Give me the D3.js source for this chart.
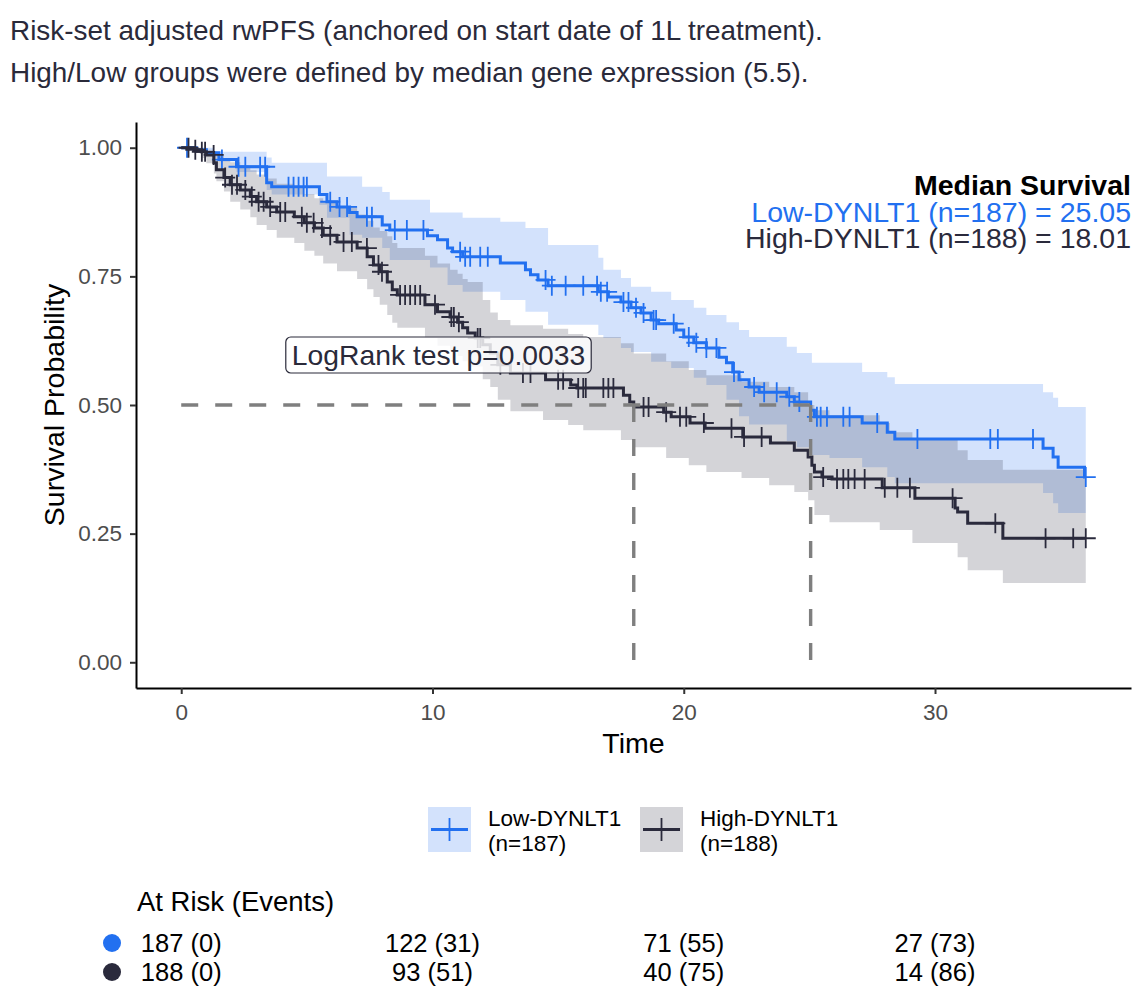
<!DOCTYPE html>
<html lang="en">
<head>
<meta charset="UTF-8">
<title>Risk-set adjusted rwPFS</title>
<script src="https://d3js.org/d3.v7.min.js"></script>
<style>
  body { margin: 0; background: #fff; }
  svg { display: block; font-family: "Liberation Sans", Arial, Helvetica, sans-serif; }
  .axis path { stroke: #000; stroke-width: 2px; }
  .axis line { stroke: #333; stroke-width: 2px; }
  .axis text { fill: #4d4d4d; font-size: 22.5px; font-family: "Liberation Sans", Arial, sans-serif; }
</style>
</head>
<body>
<svg id="chart" width="1144" height="1002"></svg>
<script>
// ---- data ----
const groups = ["Low-DYNLT1", "High-DYNLT1"];
const groupN = [187, 188];
const medians = [25.05, 18.01];
const colors = ["#2270f0", "#2a2a3c"];

// Kaplan-Meier steps (time in months, survival)
const lowTime = [0, 0.6, 1.0, 1.5, 2.2, 3.4, 3.6, 5.5, 5.8, 6.2, 6.7, 7.0, 8.0, 8.3, 9.8, 10.2, 10.6, 10.8, 11.2, 12.7, 13.7, 13.9, 14.2, 14.6, 16.6, 17.0, 17.5, 17.9, 18.3, 18.7, 19.0, 19.7, 20.0, 20.4, 20.9, 21.4, 21.7, 21.95, 22.2, 22.6, 23.0, 24.1, 24.4, 25.05, 25.2, 27.1, 28.1, 28.4, 34.3, 34.7, 34.9, 35.95];
const lowSurv = [1.000, 0.996, 0.990, 0.977, 0.963, 0.932, 0.924, 0.909, 0.895, 0.885, 0.874, 0.866, 0.850, 0.840, 0.829, 0.821, 0.805, 0.798, 0.788, 0.776, 0.763, 0.753, 0.743, 0.732, 0.720, 0.710, 0.700, 0.689, 0.679, 0.665, 0.658, 0.646, 0.632, 0.621, 0.611, 0.593, 0.582, 0.564, 0.549, 0.535, 0.525, 0.516, 0.506, 0.490, 0.477, 0.465, 0.447, 0.434, 0.416, 0.399, 0.379, 0.360];
const highTime = [0, 0.5, 0.8, 1.0, 1.3, 1.4, 1.7, 1.95, 2.35, 2.75, 3.0, 3.4, 3.8, 4.5, 4.9, 5.3, 5.65, 6.2, 7.0, 7.4, 7.65, 7.9, 8.2, 8.4, 8.6, 9.7, 10.2, 10.7, 11.0, 11.2, 11.4, 11.7, 12.0, 12.3, 12.6, 13.1, 14.5, 15.5, 15.75, 17.6, 17.85, 18.01, 19.2, 19.5, 20.25, 20.85, 22.35, 23.45, 24.4, 24.95, 25.1, 25.2, 25.5, 25.9, 27.9, 29.2, 30.8, 30.9, 31.3, 32.7];
const highSurv = [1.000, 0.996, 0.992, 0.986, 0.971, 0.957, 0.942, 0.928, 0.918, 0.905, 0.895, 0.885, 0.875, 0.866, 0.854, 0.844, 0.830, 0.817, 0.805, 0.788, 0.772, 0.759, 0.739, 0.724, 0.714, 0.695, 0.681, 0.671, 0.661, 0.650, 0.640, 0.630, 0.617, 0.601, 0.578, 0.562, 0.549, 0.539, 0.533, 0.519, 0.506, 0.496, 0.486, 0.477, 0.465, 0.455, 0.438, 0.426, 0.412, 0.399, 0.383, 0.370, 0.360, 0.356, 0.339, 0.319, 0.300, 0.292, 0.270, 0.241];
const endTime = 36.0;

// censoring times
const lowCensor = [0.23, 1.62, 2.28, 2.55, 3.14, 3.34, 4.27, 4.47, 4.67, 4.87, 5.0, 5.93, 6.3, 6.6, 7.39, 7.59, 8.5, 8.98, 9.64, 11.1, 11.3, 11.5, 11.9, 12.2, 14.5, 14.75, 15.3, 16.0, 16.55, 16.7, 16.95, 17.6, 17.8, 18.1, 18.4, 18.8, 18.9, 19.6, 20.2, 20.5, 20.9, 21.3, 22.0, 22.8, 23.2, 23.7, 24.2, 24.6, 25.3, 25.45, 25.7, 26.35, 26.6, 27.7, 29.3, 32.2, 32.5, 33.9, 36.0];
const highCensor = [0.29, 0.56, 0.82, 0.95, 1.29, 1.75, 2.02, 2.22, 2.55, 2.81, 3.08, 3.28, 3.54, 3.94, 4.14, 4.8, 5.0, 5.27, 5.6, 5.93, 6.46, 6.79, 7.39, 7.85, 7.99, 8.71, 8.91, 9.11, 9.31, 9.51, 10.1, 10.75, 10.85, 11.05, 11.8, 11.9, 12.7, 13.6, 13.9, 15.0, 15.2, 15.8, 16.0, 16.1, 16.8, 17.0, 17.2, 18.4, 18.6, 19.3, 19.85, 20.1, 20.8, 21.9, 22.4, 23.1, 25.55, 26.1, 26.35, 26.55, 26.8, 27.2, 28.0, 28.5, 29.0, 30.7, 32.4, 34.4, 35.5, 36.0];

// confidence bands (step functions)
const lowBandTime = [0, 0.6, 1.3, 1.5, 2.2, 3.4, 3.6, 5.5, 5.8, 6.7, 7.2, 8.0, 8.3, 9.9, 10.6, 11.2, 12.7, 13.7, 14.6, 16.6, 16.8, 17.5, 17.9, 18.7, 19.5, 20.4, 20.9, 21.7, 22.2, 22.6, 24.1, 24.5, 25.1, 25.8, 27.1, 28.1, 28.4, 34.3, 34.7, 34.9];
const lowLower = [1.000, 0.992, 0.981, 0.973, 0.953, 0.918, 0.909, 0.889, 0.864, 0.831, 0.825, 0.805, 0.782, 0.767, 0.733, 0.720, 0.704, 0.681, 0.656, 0.636, 0.630, 0.611, 0.603, 0.584, 0.572, 0.553, 0.539, 0.510, 0.478, 0.462, 0.430, 0.418, 0.403, 0.397, 0.379, 0.360, 0.348, 0.329, 0.309, 0.290];
const lowUpper = [1.000, 1.000, 0.992, 0.992, 0.992, 0.981, 0.971, 0.971, 0.944, 0.944, 0.924, 0.914, 0.899, 0.874, 0.874, 0.864, 0.856, 0.844, 0.811, 0.786, 0.763, 0.747, 0.730, 0.720, 0.704, 0.689, 0.675, 0.661, 0.646, 0.632, 0.613, 0.601, 0.582, 0.582, 0.564, 0.554, 0.541, 0.525, 0.514, 0.496];
const highBandTime = [0, 0.5, 0.8, 1.0, 1.3, 1.4, 1.7, 1.95, 2.35, 2.75, 3.0, 3.4, 3.8, 4.5, 4.9, 5.3, 5.65, 6.2, 7.0, 7.4, 7.65, 7.9, 8.2, 8.4, 8.6, 9.7, 10.2, 10.7, 11.0, 11.2, 11.4, 12.0, 12.3, 12.6, 13.1, 14.4, 15.4, 16.0, 17.5, 18.01, 19.3, 20.2, 20.9, 22.3, 23.4, 24.4, 24.95, 25.2, 25.8, 27.8, 28.2, 29.1, 30.9, 31.3, 32.7];
const highLower = [1.000, 0.990, 0.980, 0.970, 0.950, 0.935, 0.915, 0.895, 0.880, 0.865, 0.850, 0.840, 0.825, 0.815, 0.800, 0.790, 0.775, 0.760, 0.745, 0.725, 0.710, 0.695, 0.675, 0.660, 0.650, 0.630, 0.615, 0.605, 0.595, 0.585, 0.575, 0.550, 0.535, 0.510, 0.488, 0.471, 0.461, 0.451, 0.432, 0.418, 0.397, 0.383, 0.370, 0.358, 0.344, 0.331, 0.315, 0.286, 0.272, 0.257, 0.257, 0.232, 0.204, 0.179, 0.154];
const highUpper = [1.000, 1.000, 1.000, 0.996, 0.992, 0.988, 0.980, 0.972, 0.966, 0.956, 0.948, 0.940, 0.930, 0.922, 0.910, 0.902, 0.895, 0.885, 0.870, 0.858, 0.845, 0.838, 0.828, 0.815, 0.805, 0.790, 0.775, 0.763, 0.755, 0.745, 0.739, 0.704, 0.680, 0.665, 0.655, 0.648, 0.638, 0.632, 0.620, 0.600, 0.585, 0.568, 0.558, 0.545, 0.535, 0.525, 0.500, 0.490, 0.480, 0.465, 0.447, 0.432, 0.412, 0.393, 0.374];

// number at risk table
const riskTimes = [0, 10, 20, 30];
const lowAtRisk = [187, 122, 71, 27];
const lowEvents = [0, 31, 55, 73];
const highAtRisk = [188, 93, 40, 14];
const highEvents = [0, 51, 75, 86];

const xTicks = [0, 10, 20, 30];
const yTicks = [0, 0.25, 0.5, 0.75, 1];
const titleLines = [
  "Risk-set adjusted rwPFS (anchored on start date of 1L treatment).",
  "High/Low groups were defined by median gene expression (5.5)."
];
const pValueLabel = "LogRank test p=0.0033";

// ---- drawing ----
const svg = d3.select("#chart");
svg.append("rect").attr("width", 1144).attr("height", 1002).attr("fill", "#fff");

const x = d3.scaleLinear().domain([-1.8, 37.8]).range([136, 1131]);
const y = d3.scaleLinear().domain([-0.05, 1.05]).range([688, 122]);

svg.selectAll(".title")
  .data(titleLines)
  .enter().append("text")
  .attr("x", 10)
  .attr("y", (d, i) => 40 + i * 42)
  .attr("font-size", 27.9)
  .attr("fill", "#2a2a3a")
  .text(d => d);

function stepValue(times, vals, t) {
  const i = d3.bisectRight(times, t) - 1;
  return vals[Math.max(0, i)];
}

const plot = svg.append("g");

const bandArea = d3.area()
  .curve(d3.curveStepAfter)
  .x(d => x(d[0]))
  .y0(d => y(d[1]))
  .y1(d => y(d[2]));

const bands = [
  [lowBandTime, lowLower, lowUpper],
  [highBandTime, highLower, highUpper]
];
bands.forEach((b, gi) => {
  const rows = b[0].map((t, i) => [t, b[1][i], b[2][i]]);
  rows.push([endTime, b[1][b[1].length - 1], b[2][b[2].length - 1]]);
  plot.append("path")
    .attr("d", bandArea(rows))
    .attr("fill", colors[gi])
    .attr("fill-opacity", 0.2);
});

const stepLine = d3.line()
  .curve(d3.curveStepAfter)
  .x(d => x(d[0]))
  .y(d => y(d[1]));

const curves = [
  [lowTime, lowSurv, lowCensor],
  [highTime, highSurv, highCensor]
];
curves.forEach((c, gi) => {
  const pts = c[0].map((t, i) => [t, c[1][i]]);
  pts.push([endTime, c[1][c[1].length - 1]]);
  plot.append("path")
    .attr("d", stepLine(pts))
    .attr("fill", "none")
    .attr("stroke", colors[gi])
    .attr("stroke-width", 3);

  plot.append("g").selectAll("path")
    .data(c[2])
    .enter().append("path")
    .attr("d", t => {
      const cx = x(t), cy = y(stepValue(c[0], c[1], t));
      return `M${cx - 10},${cy}h20M${cx},${cy - 10}v20`;
    })
    .attr("stroke", colors[gi])
    .attr("stroke-width", 1.8)
    .attr("fill", "none");
});

// median lines
const dash = { stroke: "#7f7f7f", width: 3.4, array: "17,17" };
plot.append("line")
  .attr("x1", x(0)).attr("x2", x(d3.max(medians)))
  .attr("y1", y(0.5)).attr("y2", y(0.5))
  .attr("stroke", dash.stroke).attr("stroke-width", dash.width)
  .attr("stroke-dasharray", dash.array);
medians.forEach(m => {
  plot.append("line")
    .attr("x1", x(m)).attr("x2", x(m))
    .attr("y1", y(0.5)).attr("y2", y(0))
    .attr("stroke", dash.stroke).attr("stroke-width", dash.width)
    .attr("stroke-dasharray", dash.array);
});

// axes
svg.append("g")
  .attr("class", "axis")
  .attr("transform", `translate(0,${y.range()[0]})`)
  .call(d3.axisBottom(x).tickValues(xTicks).tickSize(6).tickSizeOuter(0).tickPadding(10).tickFormat(d3.format("d")));

svg.append("g")
  .attr("class", "axis")
  .attr("transform", `translate(${x.range()[0]},0)`)
  .call(d3.axisLeft(y).tickValues(yTicks).tickSize(6).tickSizeOuter(0).tickPadding(8).tickFormat(d3.format(".2f")));

svg.append("text")
  .attr("x", (x.range()[0] + x.range()[1]) / 2)
  .attr("y", 753)
  .attr("text-anchor", "middle")
  .attr("font-size", 28.5)
  .attr("fill", "#000")
  .text("Time");

svg.append("text")
  .attr("transform", `translate(64,${(y.range()[0] + y.range()[1]) / 2}) rotate(-90)`)
  .attr("text-anchor", "middle")
  .attr("font-size", 28.5)
  .attr("fill", "#000")
  .text("Survival Probability");

// log-rank label
const lbl = svg.append("g");
const lblText = lbl.append("text")
  .attr("x", 438.5)
  .attr("y", 365)
  .attr("text-anchor", "middle")
  .attr("font-size", 28.3)
  .attr("fill", "#2a2a3a")
  .text(pValueLabel);
const bb = lblText.node().getBBox();
lbl.insert("rect", "text")
  .attr("x", bb.x - 6).attr("y", 337)
  .attr("width", bb.width + 12).attr("height", 36)
  .attr("rx", 5)
  .attr("fill", "#fff").attr("fill-opacity", 0.82)
  .attr("stroke", "#2a2a3a").attr("stroke-width", 1.2);

// median survival text
const medText = svg.append("g").attr("text-anchor", "end").attr("font-size", 28.5);
medText.append("text")
  .attr("x", 1131).attr("y", 195)
  .attr("font-weight", "bold").attr("fill", "#000")
  .text("Median Survival");
groups.forEach((g, i) => {
  medText.append("text")
    .attr("x", 1131).attr("y", 222 + i * 26)
    .attr("fill", colors[i])
    .text(`${g} (n=${groupN[i]}) = ${medians[i].toFixed(2)}`);
});

// legend
const legendX = [428, 640];
groups.forEach((g, i) => {
  const lg = svg.append("g").attr("transform", `translate(${legendX[i]},807)`);
  lg.append("rect").attr("width", 43).attr("height", 45)
    .attr("fill", colors[i]).attr("fill-opacity", 0.2);
  lg.append("line").attr("x1", 3).attr("x2", 40).attr("y1", 22.5).attr("y2", 22.5)
    .attr("stroke", colors[i]).attr("stroke-width", 3);
  lg.append("line").attr("x1", 21.5).attr("x2", 21.5).attr("y1", 11).attr("y2", 34)
    .attr("stroke", colors[i]).attr("stroke-width", 1.8);
  lg.append("text").attr("x", 60).attr("y", 19).attr("font-size", 22.5).attr("fill", "#000").text(g);
  lg.append("text").attr("x", 60).attr("y", 44).attr("font-size", 22.5).attr("fill", "#000").text(`(n=${groupN[i]})`);
});

// risk table
svg.append("text")
  .attr("x", 137).attr("y", 911)
  .attr("font-size", 27.5).attr("fill", "#000")
  .text("At Risk (Events)");

const riskRows = [
  [lowAtRisk, lowEvents],
  [highAtRisk, highEvents]
];
riskRows.forEach((r, ri) => {
  const base = 952 + ri * 29;
  svg.append("circle")
    .attr("cx", 112).attr("cy", base - 9).attr("r", 9)
    .attr("fill", colors[ri]);
  svg.append("g").selectAll("text")
    .data(riskTimes)
    .enter().append("text")
    .attr("x", d => x(d))
    .attr("y", base)
    .attr("text-anchor", "middle")
    .attr("font-size", 25.5)
    .attr("fill", "#000")
    .text((d, i) => `${r[0][i]} (${r[1][i]})`);
});
</script>
</body>
</html>
